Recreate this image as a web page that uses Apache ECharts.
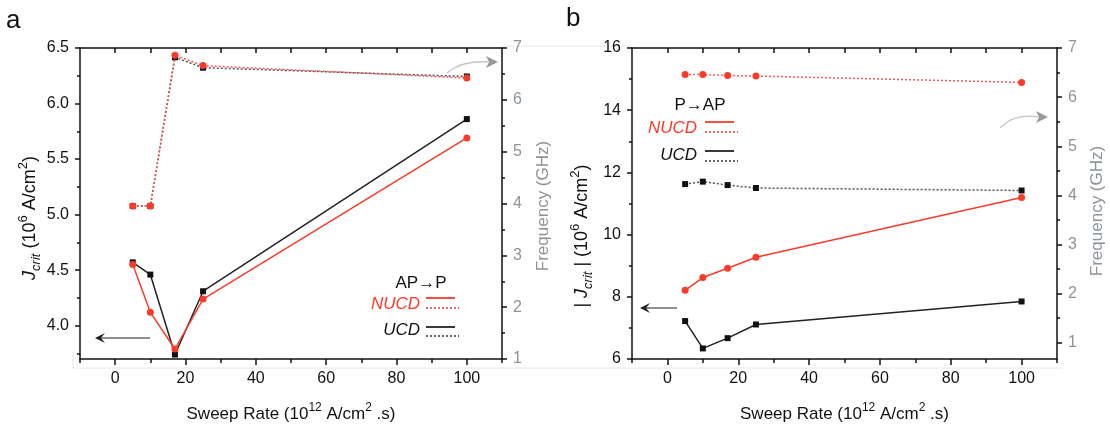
<!DOCTYPE html>
<html><head><meta charset="utf-8">
<script src="https://cdn.jsdelivr.net/npm/echarts@6/dist/echarts.min.js"></script>
<style>html,body{margin:0;padding:0;background:#fff}#c{width:1110px;height:424px}</style>
</head><body><div id="c"></div>
<script>
// ---------- data ----------
const sweepRate = [5, 10, 17, 25, 100];
const aJcritNUCD = [4.55, 4.12, 3.79, 4.24, 5.69];
const aJcritUCD  = [4.57, 4.46, 3.74, 4.31, 5.86];
const aFreqNUCD  = [3.95, 3.95, 6.86, 6.66, 6.42];
const aFreqUCD   = [3.95, 3.95, 6.82, 6.62, 6.45];
const bJcritNUCD = [8.21, 8.62, 8.92, 9.27, 11.19];
const bJcritUCD  = [7.22, 6.34, 6.67, 7.11, 7.85];
const bFreqNUCD  = [6.46, 6.46, 6.44, 6.43, 6.30];
const bFreqUCD   = [4.23, 4.28, 4.21, 4.15, 4.10];
const xMajor = [0, 20, 40, 60, 80, 100];
const xMinor = [-10, 10, 30, 50, 70, 90, 110];
const xTop = [0, 10, 20, 30, 40, 50, 60, 70, 80, 90, 100];
const aLeftMajor = [4.0, 4.5, 5.0, 5.5, 6.0, 6.5];
const aLeftMinor = [3.75, 4.25, 4.75, 5.25, 5.75, 6.25];
const bLeftMajor = [6, 8, 10, 12, 14, 16];
const bLeftMinor = [7, 9, 11, 13, 15];
const freqMajor = [1, 2, 3, 4, 5, 6, 7];
const freqMinor = [1.5, 2.5, 3.5, 4.5, 5.5, 6.5];

// ---------- style ----------
const FONT = '"Liberation Sans", Arial, sans-serif';
const RED = '#fa3b2a';
const RED_DOT = '#f25a5a';
const BLACK = '#111111';
const DGREY = '#555555';
const GREY = '#8c9399';
const FAINT = '#e6e6e6';

function pairs(xs, ys) { return xs.map((x, i) => [x, ys[i]]); }

const chart = echarts.init(document.getElementById('c'));

function xAxesFor(g) {
  return [
    { gridIndex: g, type: 'value', position: 'bottom', min: -10, max: 110,
      axisLine: { show: true, onZero: false, lineStyle: { color: BLACK, width: 1.5 } },
      axisTick: { show: true, customValues: xMajor, length: 6, lineStyle: { color: BLACK, width: 1.5 } },
      axisLabel: { show: true, customValues: xMajor, fontSize: 16, color: BLACK, margin: 12, fontFamily: FONT },
      splitLine: { show: false },
      name: 'Sweep Rate (10{sup|12} A/cm{sup|2} .s)', nameLocation: 'middle', nameGap: 43,
      nameTextStyle: { fontSize: 17, color: BLACK, fontFamily: FONT, lineHeight: 24,
        rich: { sup: { fontSize: 12, verticalAlign: 'top', fontFamily: FONT, color: BLACK } } } },
    { gridIndex: g, type: 'value', position: 'bottom', min: -10, max: 110,
      axisLine: { show: false, onZero: false },
      axisTick: { show: true, customValues: xMinor, length: 4, lineStyle: { color: BLACK, width: 1.5 } },
      axisLabel: { show: false }, splitLine: { show: false } },
    { gridIndex: g, type: 'value', position: 'top', min: -10, max: 110,
      axisLine: { show: true, onZero: false, lineStyle: { color: BLACK, width: 1.5 } },
      axisTick: { show: true, inside: true, customValues: xTop, length: 5, lineStyle: { color: BLACK, width: 1.5 } },
      axisLabel: { show: false }, splitLine: { show: false } }
  ];
}

function yPair(g, pos, min, max, major, minor, color, fmt) {
  return [
    { gridIndex: g, type: 'value', position: pos, min: min, max: max,
      axisLine: { show: true, onZero: false, lineStyle: { color: BLACK, width: 1.5 } },
      axisTick: { show: true, customValues: major, length: 5, lineStyle: { color: BLACK, width: 1.5 } },
      axisLabel: { show: true, customValues: major, fontSize: 16, color: color, margin: 11, fontFamily: FONT, formatter: fmt },
      splitLine: { show: false } },
    { gridIndex: g, type: 'value', position: pos, min: min, max: max,
      axisLine: { show: false, onZero: false },
      axisTick: { show: true, customValues: minor, length: 3, lineStyle: { color: BLACK, width: 1.5 } },
      axisLabel: { show: false }, splitLine: { show: false } }
  ];
}

const xAxis = [].concat(xAxesFor(0), xAxesFor(1));
const yAxis = [].concat(
  yPair(0, 'left', 3.7, 6.5, aLeftMajor, aLeftMinor, BLACK, v => v.toFixed(1)),
  yPair(0, 'right', 1, 7, freqMajor, freqMinor, GREY, v => String(Math.round(v))),
  yPair(1, 'left', 6, 16, bLeftMajor, bLeftMinor, BLACK, v => String(Math.round(v))),
  yPair(1, 'right', 0.67, 7, freqMajor, freqMinor, GREY, v => String(Math.round(v)))
);

function ser(xi, yi, ys, kind, dotted) {
  const isRed = kind === 'NUCD';
  return {
    type: 'line', xAxisIndex: xi, yAxisIndex: yi, data: pairs(sweepRate, ys),
    symbol: isRed ? 'circle' : 'rect', symbolSize: isRed ? 7 : 6,
    itemStyle: { color: isRed ? RED : BLACK },
    lineStyle: dotted
      ? { color: isRed ? RED_DOT : DGREY, width: 1.5, type: [2, 2] }
      : { color: isRed ? RED : '#222', width: 1.5 },
    z: isRed ? 4 : 3, animation: false
  };
}

const series = [
  ser(0, 2, aFreqUCD, 'UCD', true),
  ser(0, 2, aFreqNUCD, 'NUCD', true),
  ser(0, 0, aJcritUCD, 'UCD', false),
  ser(0, 0, aJcritNUCD, 'NUCD', false),
  ser(3, 6, bFreqUCD, 'UCD', true),
  ser(3, 6, bFreqNUCD, 'NUCD', true),
  ser(3, 4, bJcritUCD, 'UCD', false),
  ser(3, 4, bJcritNUCD, 'NUCD', false)
];

const richY = {
  i: { fontStyle: 'italic', fontSize: 18, fontFamily: FONT, color: BLACK },
  sub: { fontStyle: 'italic', fontSize: 13, fontFamily: FONT, color: BLACK, verticalAlign: 'bottom' },
  sup: { fontSize: 13, fontFamily: FONT, color: BLACK, verticalAlign: 'top' }
};

function txt(x, y, text, opts) {
  return Object.assign({ type: 'text', x: x, y: y, silent: true,
    style: Object.assign({ text: text, font: '16px ' + FONT, fill: BLACK, align: 'center', verticalAlign: 'middle' }, opts || {}) });
}
function seg(x1, y1, x2, y2, color, dash, w) {
  return { type: 'line', silent: true, shape: { x1, y1, x2, y2 },
    style: { stroke: color, lineWidth: w || 1.8, lineDash: dash || null } };
}

const graphic = [
  // faint frame lines of the original figure
  seg(503, 46, 631, 46, FAINT, null, 1),
  seg(73, 368, 1062, 368, FAINT, null, 1),
  seg(73, 352, 73, 368, FAINT, null, 1),
  txt(6, 21, 'a', { font: '26px ' + FONT, align: 'left' }),
  txt(566, 19, 'b', { font: '26px ' + FONT, align: 'left' }),
  // y axis names
  { type: 'text', x: 30, y: 218, rotation: Math.PI / 2, silent: true,
    style: { text: '{i|J}{sub|crit} (10{sup|6} A/cm{sup|2})', font: '18px ' + FONT, fill: BLACK,
      align: 'center', verticalAlign: 'middle', lineHeight: 26, rich: richY } },
  { type: 'text', x: 582, y: 236, rotation: Math.PI / 2, silent: true,
    style: { text: '| {i|J}{sub|crit} | (10{sup|6} A/cm{sup|2})', font: '18px ' + FONT, fill: BLACK,
      align: 'center', verticalAlign: 'middle', lineHeight: 26, rich: richY } },
  { type: 'text', x: 543, y: 206, rotation: Math.PI / 2, silent: true,
    style: { text: 'Frequency (GHz)', font: '17px ' + FONT, fill: GREY, align: 'center', verticalAlign: 'middle' } },
  { type: 'text', x: 1097, y: 211, rotation: Math.PI / 2, silent: true,
    style: { text: 'Frequency (GHz)', font: '17px ' + FONT, fill: GREY, align: 'center', verticalAlign: 'middle' } },
  // legend a
  txt(421, 283, 'AP\u2192P', { font: '17px ' + FONT }),
  txt(420, 304, 'NUCD', { font: 'italic 17px ' + FONT, fill: RED, align: 'right' }),
  seg(426, 298, 455, 298, RED),
  seg(426, 308, 459, 308, RED_DOT, [2, 2]),
  txt(420, 330, 'UCD', { font: 'italic 17px ' + FONT, align: 'right' }),
  seg(426, 327, 455, 327, '#222'),
  seg(426, 336, 459, 336, DGREY, [2, 2]),
  // legend b
  txt(700, 105, 'P\u2192AP', { font: '17px ' + FONT }),
  txt(697, 128, 'NUCD', { font: 'italic 17px ' + FONT, fill: RED, align: 'right' }),
  seg(705, 122, 734, 122, RED),
  seg(705, 132, 738, 132, RED_DOT, [2, 2]),
  txt(697, 155, 'UCD', { font: 'italic 17px ' + FONT, align: 'right' }),
  seg(705, 151, 734, 151, '#222'),
  seg(705, 161, 738, 161, DGREY, [2, 2]),
  // black arrows
  seg(99, 338, 150, 338, '#222', null, 1.2),
  { type: 'polygon', silent: true, shape: { points: [[95, 338], [105, 333], [101, 338], [105, 343]] }, style: { fill: '#222' } },
  seg(644, 308, 677, 308, '#222', null, 1.2),
  { type: 'polygon', silent: true, shape: { points: [[640, 308], [650, 303], [646, 308], [650, 313]] }, style: { fill: '#222' } },
  // grey curved arrows
  { type: 'bezierCurve', silent: true, shape: { x1: 447, y1: 73, x2: 488, y2: 62, cpx1: 462, cpy1: 60 },
    style: { stroke: '#c4c4c4', lineWidth: 1.3, fill: null } },
  { type: 'polygon', silent: true, shape: { points: [[498, 62], [486, 56], [489, 62], [486, 68]] }, style: { fill: '#9a9a9a' } },
  { type: 'bezierCurve', silent: true, shape: { x1: 1000, y1: 128, x2: 1038, y2: 117, cpx1: 1015, cpy1: 113 },
    style: { stroke: '#c4c4c4', lineWidth: 1.3, fill: null } },
  { type: 'polygon', silent: true, shape: { points: [[1048, 117], [1036, 111], [1039, 117], [1036, 123]] }, style: { fill: '#9a9a9a' } }
];

chart.setOption({
  animation: false,
  backgroundColor: '#fff',
  textStyle: { fontFamily: FONT },
  grid: [
    { left: 80, top: 48, width: 422, height: 311, containLabel: false, outerBoundsMode: 'none' },
    { left: 632, top: 48, width: 425, height: 311, containLabel: false, outerBoundsMode: 'none' }
  ],
  xAxis: xAxis,
  yAxis: yAxis,
  series: series,
  graphic: graphic
});
</script>
</body></html>
